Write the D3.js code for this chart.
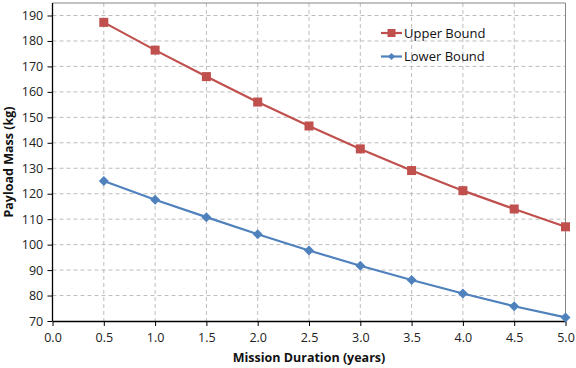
<!DOCTYPE html>
<html><head><meta charset="utf-8">
<script src="https://cdn.jsdelivr.net/npm/d3@7/dist/d3.min.js"></script>
<style>body{margin:0;background:#fff}svg{display:block}text{font-family:"Open Sans","Liberation Sans",sans-serif}</style>
</head><body><svg id="c" width="576" height="368"></svg>
<script>
const durations = [0.5,1.0,1.5,2.0,2.5,3.0,3.5,4.0,4.5,5.0];
const upperBound = [187.3,176.4,166,156,146.6,137.6,129.1,121.2,114,107];
const lowerBound = [125,117.6,110.8,104.1,97.7,91.7,86.1,80.8,75.8,71.4];
const xTicks = [0,0.5,1,1.5,2,2.5,3,3.5,4,4.5,5];
const yTicks = [70,80,90,100,110,120,130,140,150,160,170,180,190];
const seriesNames = ["Upper Bound","Lower Bound"];

const svg = d3.select("#c");
const x = d3.scaleLinear().domain([0,5]).range([52.5,565.5]);
const y = d3.scaleLinear().domain([70,190]).range([321,15.5]);
const frameTop = 3;

// grid
svg.append("g").selectAll("line").data(yTicks.slice(1)).join("line")
  .attr("x1",x(0)).attr("x2",x(5)).attr("y1",d=>y(d)).attr("y2",d=>y(d))
  .attr("stroke","#bdbdbd").attr("stroke-dasharray","4,3").attr("stroke-width",1);
svg.append("g").selectAll("line").data(xTicks.slice(1,-1)).join("line")
  .attr("x1",d=>x(d)).attr("x2",d=>x(d)).attr("y1",frameTop).attr("y2",y(70))
  .attr("stroke","#bdbdbd").attr("stroke-dasharray","4,3").attr("stroke-width",1);
// frame top/right
svg.append("path").attr("d",`M${x(0)},${frameTop}H${x(5)}V${y(70)}`).attr("fill","none").attr("stroke","#868686").attr("stroke-width",1);

// axes
const xa = svg.append("g").attr("transform",`translate(0,${y(70)})`)
  .call(d3.axisBottom(x).tickValues(xTicks).tickFormat(d3.format(".1f")).tickSize(5).tickSizeOuter(0));
const ya = svg.append("g").attr("transform",`translate(${x(0)},0)`)
  .call(d3.axisLeft(y).tickValues(yTicks).tickSize(5).tickSizeOuter(0));
[xa,ya].forEach(a=>{
  a.select(".domain").attr("stroke","#000").attr("stroke-width",1.3);
  a.selectAll(".tick line").attr("stroke","#000");
  a.selectAll(".tick text").attr("font-size",12.5).attr("fill","#222").attr("font-family","'Open Sans',sans-serif");
});
ya.select(".domain").attr("d",`M0,${frameTop}V${y(70)}`);
xa.selectAll(".tick text").attr("dy","1.05em");
ya.selectAll(".tick text").attr("dx","-0.1em");

// titles
svg.append("text").attr("x",309).attr("y",362).attr("text-anchor","middle")
  .attr("font-size",12.5).attr("font-weight","bold").attr("fill","#111").text("Mission Duration (years)");
svg.append("text").attr("transform",`translate(13,${(y(70)+frameTop)/2}) rotate(-90)`).attr("text-anchor","middle")
  .attr("font-size",12.5).attr("font-weight","bold").attr("fill","#111").text("Payload Mass (kg)");

const colors = ["#C0504D","#4F81BD"];
const line = d3.line().x((d,i)=>x(durations[i])).y(d=>y(d));
[upperBound,lowerBound].forEach((s,k)=>{
  svg.append("path").datum(s).attr("d",line).attr("fill","none").attr("stroke",colors[k]).attr("stroke-width",2.2);
  const g = svg.append("g");
  if(k===0){
    g.selectAll("rect").data(s).join("rect")
      .attr("x",(d,i)=>x(durations[i])-4.5).attr("y",d=>y(d)-4.5).attr("width",9).attr("height",9).attr("fill",colors[k]);
  } else {
    g.selectAll("path").data(s).join("path")
      .attr("d",(d,i)=>{const cx=x(durations[i]),cy=y(d),r=5;return `M${cx},${cy-r}L${cx+r},${cy}L${cx},${cy+r}L${cx-r},${cy}Z`;})
      .attr("fill",colors[k]);
  }
});

// legend
const leg = svg.append("g");
seriesNames.forEach((n,k)=>{
  const ly = 33 + k*23.5;
  leg.append("line").attr("x1",381).attr("x2",402).attr("y1",ly).attr("y2",ly).attr("stroke",colors[k]).attr("stroke-width",2.2);
  if(k===0) leg.append("rect").attr("x",387.5).attr("y",ly-4).attr("width",8).attr("height",8).attr("fill",colors[k]);
  else leg.append("path").attr("d",`M391.5,${ly-3.5}L395,${ly}L391.5,${ly+3.5}L388,${ly}Z`).attr("fill",colors[k]);
  leg.append("text").attr("x",404).attr("y",ly).attr("dy","0.36em").attr("font-size",13).attr("fill","#111").text(n);
});
</script></body></html>
